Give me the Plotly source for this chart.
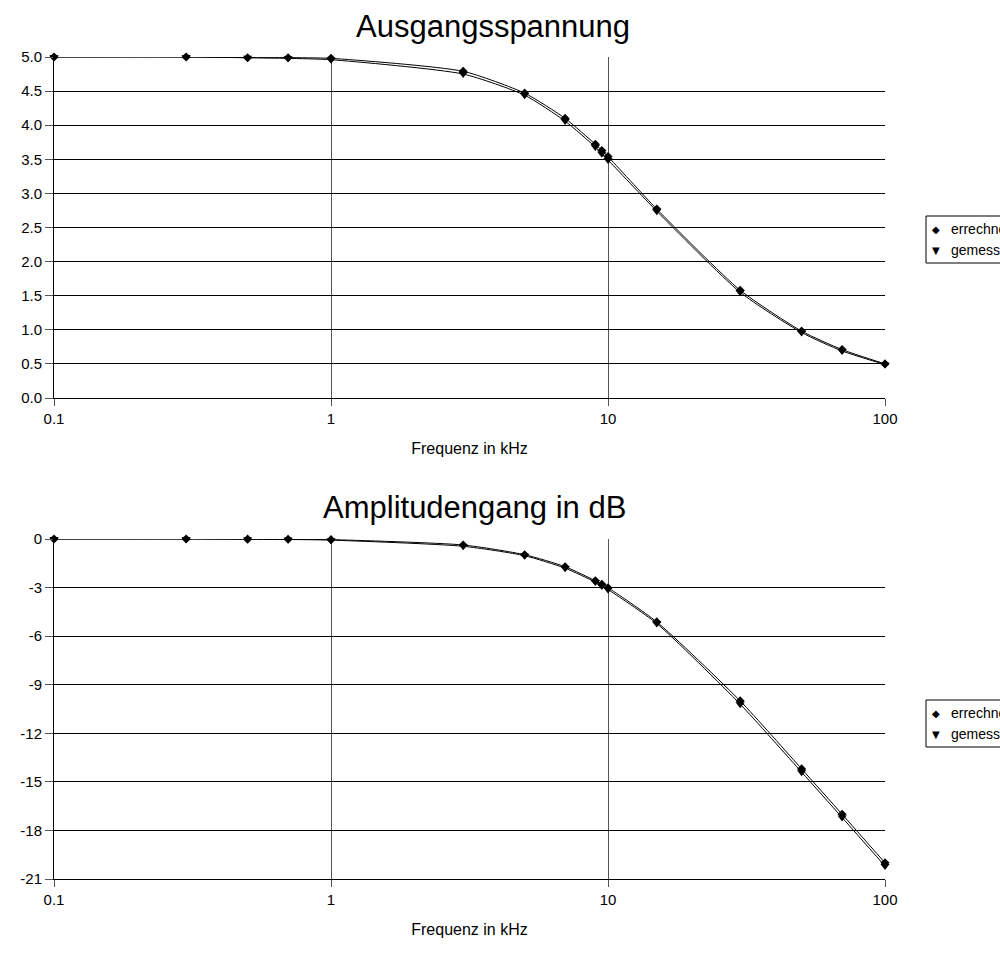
import plotly.graph_objects as go

# ---- data ----
freq_khz = [0.1, 0.3, 0.5, 0.7, 1, 3, 5, 7, 9, 9.5, 10, 15, 30, 50, 70, 100]
u_errechnet = [5.00, 5.00, 4.99, 4.99, 4.98, 4.79, 4.47, 4.10, 3.72, 3.63, 3.54, 2.77, 1.58, 0.98, 0.71, 0.50]
u_gemessen = [5.00, 5.00, 4.99, 4.98, 4.96, 4.75, 4.44, 4.06, 3.68, 3.58, 3.49, 2.74, 1.55, 0.96, 0.69, 0.49]
db_errechnet = [0.00, 0.00, -0.01, -0.02, -0.04, -0.37, -0.97, -1.71, -2.58, -2.80, -3.01, -5.12, -10.0, -14.2, -17.0, -20.0]
db_gemessen = [0.00, 0.00, -0.02, -0.03, -0.07, -0.45, -1.03, -1.80, -2.66, -2.90, -3.12, -5.22, -10.2, -14.4, -17.2, -20.2]
x_ticks = [0.1, 1, 10, 100]
x_ticktext = ["0.1", "1", "10", "100"]
u_ticks = [0, 0.5, 1, 1.5, 2, 2.5, 3, 3.5, 4, 4.5, 5]
u_ticktext = ["0.0", "0.5", "1.0", "1.5", "2.0", "2.5", "3.0", "3.5", "4.0", "4.5", "5.0"]
db_ticks = [0, -3, -6, -9, -12, -15, -18, -21]
db_ticktext = ["0", "-3", "-6", "-9", "-12", "-15", "-18", "-21"]
series_names = ["errechnet", "gemessen"]
titles = ["Ausgangsspannung", "Amplitudengang in dB"]
x_title = "Frequenz in kHz"

W, H = 1000, 953
FONT = "Liberation Sans, Arial, sans-serif"

def px_x(p):
    return p / W

def px_y(p):
    return 1 - p / H

fig = go.Figure()

line_style = dict(color="black", width=1, shape="spline", smoothing=0.6)
series_top = [(u_errechnet, "diamond", 7, series_names[0]), (u_gemessen, "triangle-down", 8, series_names[1])]
series_bot = [(db_errechnet, "diamond", 7, series_names[0]), (db_gemessen, "triangle-down", 8, series_names[1])]
for ax, series in [(("x", "y"), series_top), (("x2", "y2"), series_bot)]:
    for ys, sym, sz, name in series:
        fig.add_trace(go.Scatter(x=freq_khz, y=ys, mode="lines+markers", name=name,
                                 line=line_style, marker=dict(symbol=sym, size=sz, color="black"),
                                 xaxis=ax[0], yaxis=ax[1], showlegend=False, cliponaxis=False))

xcommon = dict(type="log", range=[-1, 2], tickvals=x_ticks, ticktext=x_ticktext,
               showgrid=True, gridcolor="#555555", gridwidth=1, zeroline=False,
               showline=True, linecolor="black", linewidth=1,
               ticks="outside", ticklen=7, tickcolor="#555555",
               tickfont=dict(family=FONT, size=15, color="black"),
               title=dict(text=x_title, font=dict(family=FONT, size=16, color="black"), standoff=16),
               domain=[px_x(54), px_x(885)])
ycommon = dict(showgrid=True, gridcolor="black", gridwidth=1, zeroline=False,
               showline=True, linecolor="black", linewidth=1,
               ticks="outside", ticklen=8, tickcolor="#555555",
               tickfont=dict(family=FONT, size=15, color="black"))

fig.update_layout(
    width=W, height=H,
    margin=dict(l=0, r=0, t=0, b=0, autoexpand=False),
    paper_bgcolor="white", plot_bgcolor="white",
    showlegend=False,
    xaxis=dict(**xcommon, anchor="y"),
    yaxis=dict(**ycommon, range=[0, 5], tickvals=u_ticks, ticktext=u_ticktext,
               domain=[px_y(398), px_y(57)], anchor="x"),
    xaxis2=dict(**xcommon, anchor="y2"),
    yaxis2=dict(**ycommon, range=[-21, 0], tickvals=db_ticks, ticktext=db_ticktext,
                domain=[px_y(879), px_y(539)], anchor="x2"),
)

# titles
for t, xp, yp in [(titles[0], 493, 27), (titles[1], 474, 507)]:
    fig.add_annotation(text=t, x=px_x(xp), y=px_y(yp), xref="paper", yref="paper",
                       showarrow=False, xanchor="center", yanchor="middle",
                       font=dict(family=FONT, size=31, color="black"))

# legends (drawn manually, clipped at right edge as in the reference)
for top in [216, 700]:
    fig.add_shape(type="rect", xref="paper", yref="paper",
                  x0=px_x(926), x1=px_x(1010), y0=px_y(top), y1=px_y(top + 47),
                  line=dict(color="black", width=1), fillcolor="white")
    for i, (sym, name) in enumerate([("◆", series_names[0]), ("▼", series_names[1])]):
        yc = top + 13 + i * 21
        fig.add_annotation(text=sym, x=px_x(936), y=px_y(yc), xref="paper", yref="paper",
                           showarrow=False, xanchor="center", yanchor="middle",
                           font=dict(family="DejaVu Sans", size=10, color="black"))
        fig.add_annotation(text=name, x=px_x(949), y=px_y(yc), xref="paper", yref="paper",
                           showarrow=False, xanchor="left", yanchor="middle",
                           font=dict(family=FONT, size=14, color="black"))

fig.write_html("out.html", config={"displayModeBar": False},
               post_script="document.body.style.margin='0';document.body.style.overflow='hidden';")
